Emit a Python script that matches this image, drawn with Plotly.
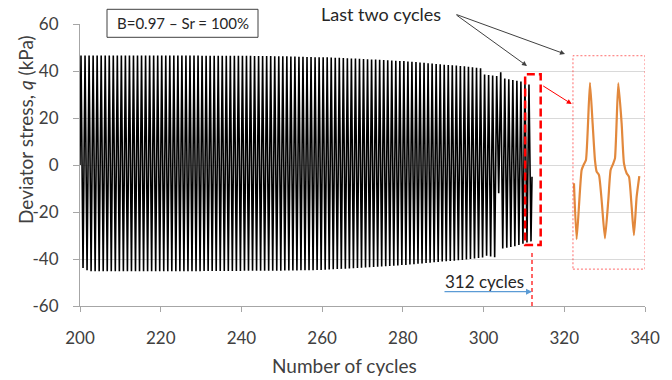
import plotly.graph_objects as go

# ---------------- data ----------------
cycles = list(range(200, 312))  # cycle numbers shown in the main record

peak_q = [
    46.6, 46.6, 46.6, 46.6, 46.6, 46.6, 46.6, 46.6, 46.6, 46.6,
    46.6, 46.6, 46.6, 46.6, 46.6, 46.6, 46.6, 46.6, 46.6, 46.6,
    46.6, 46.6, 46.6, 46.6, 46.6, 46.6, 46.6, 46.6, 46.6, 46.6,
    46.5, 46.5, 46.5, 46.5, 46.5, 46.5, 46.5, 46.5, 46.5, 46.5,
    46.5, 46.5, 46.5, 46.4, 46.4, 46.4, 46.4, 46.4, 46.3, 46.3,
    46.3, 46.3, 46.2, 46.2, 46.1, 46.1, 46.0, 46.0, 45.9, 45.9,
    45.8, 45.8, 45.7, 45.6, 45.6, 45.5, 45.4, 45.3, 45.3, 45.2,
    45.1, 45.0, 44.9, 44.9, 44.8, 44.7, 44.6, 44.5, 44.4, 44.3,
    44.2, 44.0, 43.9, 43.8, 43.6, 43.5, 43.3, 43.2, 43.0, 42.9,
    42.7, 42.6, 42.4, 42.3, 42.1, 42.0, 41.8, 41.6, 41.4, 41.2,
    38.5, 38.3, 38.1, 37.9, 39.5, 36.8, 36.5, 36.2, 35.9, 35.5,
    35.0, 34.2,
]

trough_q = [
    -43.8, -44.8, -45.2, -45.2, -45.2, -45.2, -45.2, -45.2, -45.2, -45.2,
    -45.2, -45.2, -45.2, -45.2, -45.2, -45.2, -45.2, -45.2, -45.2, -45.2,
    -45.2, -45.2, -45.2, -45.2, -45.2, -45.2, -45.2, -45.2, -45.2, -45.2,
    -45.1, -45.1, -45.1, -45.1, -45.1, -45.1, -45.1, -45.1, -45.1, -45.1,
    -45.0, -45.0, -45.0, -45.0, -45.0, -45.0, -45.0, -45.0, -45.0, -45.0,
    -44.9, -44.9, -44.9, -44.9, -44.8, -44.8, -44.8, -44.8, -44.7, -44.7,
    -44.6, -44.5, -44.4, -44.3, -44.2, -44.1, -44.0, -43.9, -43.8, -43.7,
    -43.6, -43.5, -43.4, -43.3, -43.2, -43.1, -43.0, -42.9, -42.8, -42.6,
    -42.5, -42.3, -42.2, -42.0, -41.9, -41.7, -41.6, -41.4, -41.3, -41.1,
    -41.0, -40.8, -40.7, -40.5, -40.4, -40.2, -40.0, -39.8, -39.6, -39.4,
    -38.6, -38.9, -39.3, -12.0, -35.5, -35.2, -34.9, -34.6, -34.0, -33.5,
    -33.0, -32.5,
]

start_q = 0.0
end_q = -5.0

# zoomed view of the last two cycles (drawn in the inset window)
inset_x = [322.40, 323.06, 324.30, 324.88, 325.37, 326.36, 327.02, 327.60,
           328.02, 328.60, 329.25, 330.08, 330.91, 331.48, 332.15, 332.56,
           333.38, 334.21, 334.79, 335.45, 336.03, 336.69, 337.26, 337.93,
           338.59]
inset_q = [-7.8, -31.6, -2.1, 0.4, 2.1, 35.0, 17.7, 2.1,
           -2.8, -4.3, -14.9, -31.2, -14.9, -2.1, 0.7, 2.8,
           34.8, 17.7, 0.7, -3.5, -5.0, -17.7, -29.8, -13.5,
           -4.7]

x_ticks = [200, 220, 240, 260, 280, 300, 320, 340]
y_ticks = [-60, -40, -20, 0, 20, 40, 60]
y_tick_text = ["-60", "-40", "-20", "0", "20", "40", "60"]

# ------------- build waveform from the per-cycle extremes -------------
wave_x = [cycles[0]]
wave_y = [start_q]
for n, pk, tr in zip(cycles, peak_q, trough_q):
    wave_x += [n + 0.25, n + 0.75]
    wave_y += [pk, tr]
wave_x.append(cycles[-1] + 1)
wave_y.append(end_q)

W, H = 672, 380
ML, MR, MT, MB = 80, 27, 24, 74
PW, PH = W - ML - MR, H - MT - MB


def px2paper_x(px):
    return (px - ML) / PW


def px2paper_y(py):
    return 1 - (py - MT) / PH


fig = go.Figure()
fig.add_trace(go.Scatter(x=wave_x, y=wave_y, mode="lines",
                         line=dict(color="#000000", width=1.6),
                         hoverinfo="skip", showlegend=False))
fig.add_trace(go.Scatter(x=inset_x, y=inset_q, mode="lines",
                         line=dict(color="#E2883C", width=2.2, shape="spline", smoothing=0.5),
                         hoverinfo="skip", showlegend=False))

font_family = "Lato, 'Open Sans', sans-serif"
axis_col = "#A6A6A6"

fig.update_layout(
    width=W, height=H,
    margin=dict(l=ML, r=MR, t=MT, b=MB),
    paper_bgcolor="white", plot_bgcolor="white",
    font=dict(family=font_family, color="#595959"),
    xaxis=dict(range=[200, 340], tickvals=x_ticks, ticks="outside", ticklen=5,
               tickcolor=axis_col, showline=True, linecolor=axis_col, linewidth=1,
               showgrid=False, zeroline=False,
               tickfont=dict(size=17, color="#404040"), ticklabelstandoff=12),
    yaxis=dict(range=[-60, 60], tickvals=y_ticks, ticktext=y_tick_text,
               ticks="outside", ticklen=6,
               tickcolor=axis_col, showline=True, linecolor=axis_col, linewidth=1,
               showgrid=True, gridcolor="#D9D9D9", gridwidth=1, zeroline=False,
               tickfont=dict(size=17, color="#404040"), ticklabelstandoff=11),
)

shapes = [
    # condition label box
    dict(type="rect", xref="paper", yref="paper",
         x0=px2paper_x(107), x1=px2paper_x(258), y0=px2paper_y(37.3), y1=px2paper_y(9.3),
         line=dict(color="#404040", width=1), fillcolor="white", layer="above"),
    # red dashed frame round the last cycles
    dict(type="rect", xref="x", yref="y", x0=310.3, x1=314.15, y0=-34.0, y1=38.6,
         line=dict(color="#FF0000", width=2.5, dash="8px,4px"), layer="above"),
    # vertical dashed line at 312 cycles
    dict(type="line", xref="x", yref="y", x0=312, x1=312, y0=-37.4, y1=-60,
         line=dict(color="#FF3333", width=1.5, dash="4px,3px"), layer="above"),
    # inset window
    dict(type="rect", xref="x", yref="y", x0=322.15, x1=340, y0=-44.3, y1=46.5,
         line=dict(color="rgba(255,60,60,0.75)", width=1, dash="2px,2px"), layer="above"),
]
fig.update_layout(shapes=shapes)

ann = [
    dict(text="B=0.97 \u2013 Sr = 100%", xref="paper", yref="paper",
         x=px2paper_x(115), y=px2paper_y(23.3), xanchor="left", yanchor="middle",
         showarrow=False, font=dict(size=15, color="#262626")),
    dict(text="Last two cycles", xref="paper", yref="paper",
         x=px2paper_x(381), y=px2paper_y(14), xanchor="center", yanchor="middle",
         showarrow=False, font=dict(size=18, color="#262626")),
    dict(text="", xref="paper", yref="paper", x=px2paper_x(527), y=px2paper_y(66),
         ax=455 - 527, ay=14 - 66, showarrow=True, arrowhead=2, arrowsize=1,
         arrowwidth=1, arrowcolor="#404040"),
    dict(text="", xref="paper", yref="paper", x=px2paper_x(565), y=px2paper_y(54),
         ax=455 - 565, ay=14 - 54, showarrow=True, arrowhead=2, arrowsize=1,
         arrowwidth=1, arrowcolor="#404040"),
    dict(text="", xref="paper", yref="paper", x=px2paper_x(571.7), y=px2paper_y(104),
         ax=541.7 - 571.7, ay=85 - 104, showarrow=True, arrowhead=2, arrowsize=1,
         arrowwidth=1, arrowcolor="#FF0000"),
    dict(text="312 cycles", xref="x", yref="y", x=300.27, y=-49.7,
         xanchor="center", yanchor="middle", showarrow=False,
         font=dict(size=17, color="#262626")),
    dict(text="", xref="x", yref="y", x=312, y=-53.9, ax=-89, ay=0,
         showarrow=True, arrowhead=2, arrowsize=1, arrowwidth=1.2,
         arrowcolor="#5B9BD5"),
    dict(text="Number of cycles", xref="paper", yref="paper",
         x=px2paper_x(344), y=px2paper_y(365), xanchor="center", yanchor="middle",
         showarrow=False, font=dict(size=19, color="#404040")),
    dict(text="Deviator stress, <i>q</i> (kPa)", xref="paper", yref="paper",
         x=px2paper_x(25), y=px2paper_y(130), xanchor="center", yanchor="middle",
         textangle=-90, showarrow=False, font=dict(size=19, color="#404040")),
]
fig.update_layout(annotations=ann)

fig.write_html("out.html")
